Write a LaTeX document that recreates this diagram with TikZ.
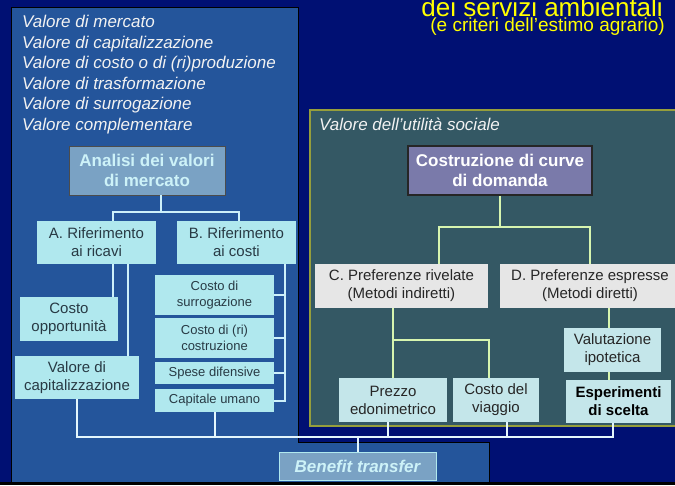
\documentclass[tikz,border=0pt]{standalone}
\usepackage{fontspec}
\setmainfont{Liberation Sans}
\definecolor{navybg}{RGB}{0,16,115}
\definecolor{panelblue}{RGB}{36,85,155}
\definecolor{slate}{RGB}{52,88,100}
\definecolor{olive}{RGB}{150,158,60}
\definecolor{headblue}{RGB}{122,162,196}
\definecolor{headtext}{RGB}{205,242,248}
\definecolor{lightcyan}{RGB}{176,232,238}
\definecolor{palecyan}{RGB}{196,230,234}
\definecolor{boxtext}{RGB}{40,58,68}
\definecolor{lavender}{RGB}{122,122,170}
\definecolor{greybox}{RGB}{230,230,230}
\definecolor{leftline}{RGB}{205,240,250}
\definecolor{rightline}{RGB}{215,245,175}
\definecolor{busline}{RGB}{228,246,252}
\definecolor{listwhite}{RGB}{242,242,242}
\definecolor{titleyellow}{RGB}{255,255,0}

\begin{document}
\begin{tikzpicture}[x=1pt,y=-1pt,
		leafbox/.style={rectangle,fill=lightcyan,text=boxtext,align=center,inner sep=0pt,font=\fontsize{15}{18}\selectfont},
		costbox/.style={leafbox,font=\fontsize{13}{15.6}\selectfont},
		methodbox/.style={leafbox,fill=palecyan,text=black!85},
		prefbox/.style={leafbox,fill=greybox,text=black!85},
		headbox/.style={rectangle,draw=black!70,fill=headblue,text=headtext,align=center,inner sep=0pt,font=\fontsize{17}{20.4}\selectfont\bfseries},
		treeL/.style={draw=leftline,line width=2pt},
		treeR/.style={draw=rightline,line width=2pt},
		bus/.style={draw=busline,line width=2pt}]
		
		% Background and panels
		\useasboundingbox (0,0) rectangle (675,485);
		\fill[navybg] (0,0) rectangle (675,485);
		\draw[black,fill=panelblue,line width=1pt] (11,7) -- (298,7) -- (298,442) -- (489,442) -- (489,482) -- (11,482) -- cycle; % left panel
		\draw[olive,fill=slate,line width=1.5pt] (310,110) rectangle (677,426); % right panel
		\fill[black] (0,482) rectangle (675,485);
		
		% Title
		\node[anchor=base east,inner sep=0pt,text=titleyellow,font=\fontsize{26}{31}\selectfont] (titolo) at (663,16.5) {dei servizi ambientali};
		\node[anchor=base east,inner sep=0pt,text=titleyellow,font=\fontsize{19}{23}\selectfont] (sottotitolo) at (665,31) {(e criteri dell’estimo agrario)};
		
		% Labels of panels
		\node[anchor=north west,inner sep=0pt,align=left,text=listwhite,font=\fontsize{17}{20.5}\selectfont\itshape] (valori) at (22,15)
			{Valore di mercato\\Valore di capitalizzazione\\Valore di costo o di (ri)produzione\\Valore di trasformazione\\Valore di surrogazione\\Valore complementare};
		\node[anchor=base west,inner sep=0pt,text=listwhite,font=\fontsize{17}{20.5}\selectfont\itshape] (sociale) at (319,130) {Valore dell’utilità sociale};
		
		% Left tree - market values
		\node[headbox,minimum width=156pt,minimum height=49pt] (analisi) at (147,170.5) {Analisi dei valori\\di mercato};
		\node[leafbox,minimum width=119pt,minimum height=43pt] (rifA) at (96.5,242.5) {A. Riferimento\\ai ricavi};
		\node[leafbox,minimum width=119pt,minimum height=43pt] (rifB) at (236.5,242.5) {B. Riferimento\\ai costi};
		\node[leafbox,minimum width=98pt,minimum height=44pt] (opport) at (69,319) {Costo\\opportunità};
		\node[leafbox,minimum width=124pt,minimum height=43pt] (capit) at (77,377.5) {Valore di\\capitalizzazione};
		\node[costbox,minimum width=119pt,minimum height=40pt] (surrog) at (214.5,295) {Costo di\\surrogazione};
		\node[costbox,minimum width=119pt,minimum height=40pt] (ricostr) at (214.5,338) {Costo di (ri)\\costruzione};
		\node[costbox,minimum width=119pt,minimum height=22pt] (difens) at (214.5,373) {Spese difensive};
		\node[costbox,minimum width=119pt,minimum height=23pt] (umano) at (214.5,400.5) {Capitale umano};
		
		\coordinate (jAB) at (161,212);
		\draw[treeL] (analisi.south -| jAB) -- (jAB);
		\draw[treeL] ([xshift=16pt]rifA.north) |- (jAB) -| ([xshift=2pt]rifB.north);
		\draw[treeL] ([xshift=16pt]rifA.south) -- ([xshift=16pt]rifA.south |- opport.north);
		\draw[treeL] ([xshift=31pt]rifA.south) -- ([xshift=31pt]rifA.south |- capit.north);
		\coordinate (bB) at ([xshift=-11pt]rifB.south east);
		\draw[treeL] (bB) |- (umano.east);
		\draw[treeL] (surrog.east) -- (surrog.east -| bB);
		\draw[treeL] (ricostr.east) -- (ricostr.east -| bB);
		\draw[treeL] (difens.east) -- (difens.east -| bB);
		
		% Right tree - social utility
		\node[headbox,draw=black!85,line width=1.5pt,fill=lavender,text=white,minimum width=184pt,minimum height=49pt] (curve) at (500,170.5) {Costruzione di curve\\di domanda};
		\node[prefbox,minimum width=173pt,minimum height=44pt] (prefC) at (401.5,286) {C. Preferenze rivelate\\(Metodi indiretti)};
		\node[prefbox,minimum width=180pt,minimum height=44pt] (prefD) at (590,286) {D. Preferenze espresse\\(Metodi diretti)};
		\node[methodbox,minimum width=108pt,minimum height=44pt] (prezzo) at (393,400) {Prezzo\\edonimetrico};
		\node[methodbox,minimum width=86pt,minimum height=44pt] (viaggio) at (496,400) {Costo del\\viaggio};
		\node[methodbox,minimum width=97pt,minimum height=44pt] (valut) at (612.5,350) {Valutazione\\ipotetica};
		\node[methodbox,minimum width=105pt,minimum height=43pt,text=black,font=\fontsize{15}{18}\selectfont\bfseries] (esper) at (618.5,401.5) {Esperimenti\\di scelta};
		
		\coordinate (jCD) at (500,227);
		\draw[treeR] (curve.south) -- (jCD);
		\draw[treeR] ([xshift=37pt]prefC.north) |- (jCD) -| (prefD.north);
		\draw[treeR] (prezzo.north |- prefC.south) -- (prezzo.north);
		\coordinate (jPV) at (393,340);
		\draw[treeR] (jPV) -| ([xshift=-7pt]viaggio.north);
		\draw[treeR] ([xshift=-4pt]valut.north |- prefD.south) -- ([xshift=-4pt]valut.north);
		\draw[treeR] ([xshift=-4pt]valut.south) -- ([xshift=-4pt]valut.south |- esper.north);
		
		% Benefit transfer
		\node[rectangle,draw=lightcyan,fill=headblue,text=headtext,inner sep=0pt,minimum width=157pt,minimum height=28pt,font=\fontsize{17}{20.4}\selectfont\bfseries\itshape] (transfer) at (357.5,466) {Benefit transfer};
		\coordinate (bus) at (357.5,437);
		\draw[bus] (capit.south) |- (bus) -| ([xshift=-6pt]esper.south);
		\draw[bus] (umano.south) -- (umano.south |- bus);
		\draw[bus] ([xshift=-5pt]prezzo.south) -- ([xshift=-5pt]prezzo.south |- bus);
		\draw[bus] ([xshift=11pt]viaggio.south) -- ([xshift=11pt]viaggio.south |- bus);
		\draw[bus] (bus) -- (transfer.north);
\end{tikzpicture}
\end{document}
